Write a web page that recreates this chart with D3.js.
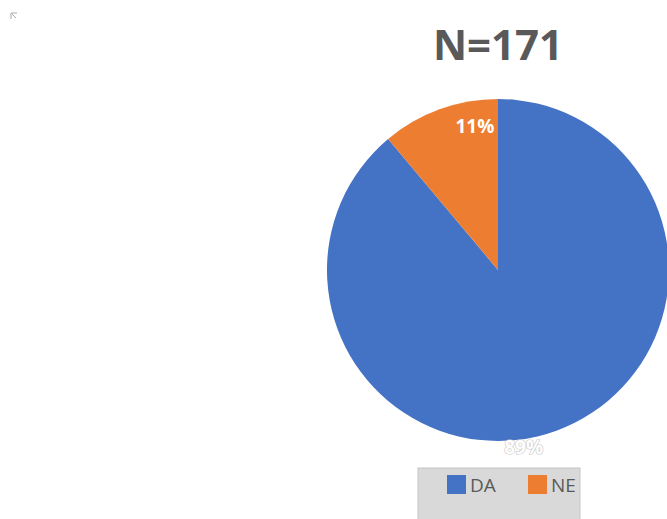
<!DOCTYPE html>
<html><head><meta charset="utf-8">
<script src="https://cdn.jsdelivr.net/npm/d3@7"></script>
<style>body{margin:0;background:#fff;}svg{display:block;}</style>
</head><body>
<script>
const categories = ["DA", "NE"];
const values = [152, 19];
const labels = ["89%", "11%"];
const title = "N=171";
const colors = ["#4472C4", "#ED7D31"];

const W = 667, H = 519;
const svg = d3.select("body").append("svg").attr("width", W).attr("height", H);

// tiny icon top-left
svg.append("path").attr("d", "M11,13 L17,13 M11,13 L11,19 M12,14 L16,18")
  .attr("stroke", "#aaa").attr("stroke-width", 1).attr("fill", "none");

svg.append("text").attr("x", 498).attr("y", 60).attr("text-anchor", "middle")
  .attr("font-family", "Open Sans, Liberation Sans, sans-serif").attr("font-weight", "bold")
  .attr("font-size", 42).attr("fill", "#595959").text(title);

const cx = 498, cy = 270, r = 171;
const pie = d3.pie().sort(null).value(d => d)(values);
const arc = d3.arc().innerRadius(0).outerRadius(r);
const g = svg.append("g").attr("transform", `translate(${cx},${cy})`);
g.selectAll("path").data(pie).join("path")
  .attr("d", arc).attr("fill", (d, i) => colors[i]);

// NE label inside slice near the outer edge
const ne = pie[1];
const neA = (ne.startAngle + ne.endAngle) / 2;
const neR = r * 0.84;
g.append("text").attr("x", Math.sin(neA) * neR + 26).attr("y", -Math.cos(neA) * neR - 2)
  .attr("text-anchor", "middle").attr("font-family", "Open Sans, sans-serif")
  .attr("font-weight", "bold").attr("font-size", 19).attr("fill", "#fff").text(labels[1]);
// DA label near bottom
const da = pie[0];
const daA = (da.startAngle + da.endAngle) / 2;
const daR = r * 1.02;
g.append("text").attr("x", Math.sin(daA) * daR - 34).attr("y", -Math.cos(daA) * daR + 20)
  .attr("text-anchor", "middle").attr("font-family", "Open Sans, sans-serif")
  .attr("font-weight", "bold").attr("font-size", 19).attr("fill", "#fff")
  .attr("stroke", "#c8c8c8").attr("stroke-width", 1.2).attr("paint-order", "stroke")
  .text(labels[0]);

// legend
const lg = svg.append("g");
lg.append("rect").attr("x", 418).attr("y", 468).attr("width", 162).attr("height", 55)
  .attr("fill", "#d9d9d9").attr("stroke", "#c6c6c6");
const lx = [447, 528];
categories.forEach((c, i) => {
  lg.append("rect").attr("x", lx[i]).attr("y", 475).attr("width", 19).attr("height", 19)
    .attr("fill", colors[i]);
  lg.append("text").attr("x", lx[i] + 23).attr("y", 492)
    .attr("font-family", "Open Sans, sans-serif").attr("font-size", 19)
    .attr("fill", "#595959").text(c);
});
</script>
</body></html>
